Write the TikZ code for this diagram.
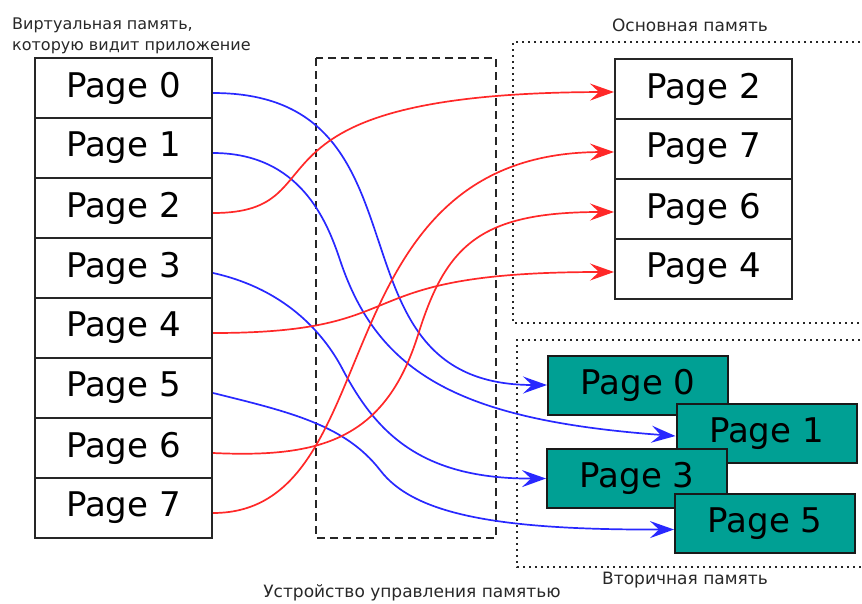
\documentclass[tikz,border=0pt]{standalone}
\usepackage{fontspec}
\setmainfont{DejaVu Sans}
\usetikzlibrary{arrows.meta}
\definecolor{tealbox}{RGB}{0,160,148}
\definecolor{cblue}{RGB}{40,40,255}
\definecolor{cred}{RGB}{255,40,40}
\definecolor{lblgray}{RGB}{40,40,40}
\begin{document}
\begin{tikzpicture}[x=1pt,y=-1pt,
  pg/.style={draw=black!85, line width=2pt, minimum width=177pt, minimum height=60pt,
    inner sep=0pt, font=\fontsize{34}{38}\selectfont, fill=white},
  tl/.style={pg, fill=tealbox, draw=black!90, minimum width=180pt, minimum height=59pt},
  lbl/.style={font=\fontsize{17}{21}\selectfont, text=lblgray, inner sep=0pt},
  lbls/.style={lbl, font=\fontsize{16}{21}\selectfont},
  tip/.style={-{Stealth[length=24pt,width=17pt,inset=9pt]}},
  bl/.style={cblue, line width=1.7pt, tip},
  rd/.style={cred, line width=1.7pt, tip},
  dotb/.style={black!85, line width=2pt, dash pattern=on 2pt off 4pt},
  dashb/.style={black!85, line width=2pt, dash pattern=on 8pt off 5pt}]
\useasboundingbox (0,0) rectangle (862,603);
\fill[white] (0,0) rectangle (862,603);

% frames
\draw[dashb] (316,58) rectangle (496,538);
\draw[dotb] (866,42) -- (513,42) -- (513,323) -- (866,323);
\draw[dotb] (866,340) -- (517,340) -- (517,567) -- (866,567);

% labels
\node[lbls, anchor=base west] (l1) at (12,29) {Виртуальная память,};
\node[lbls, anchor=base west] (l2) at (12,50) {которую видит приложение};
\node[lbl, anchor=base] (l3) at (690,31) {Основная память};
\node[lbl, anchor=base] (l4) at (685,584) {Вторичная память};
\node[lbl, anchor=base] (l5) at (412,597) {Устройство управления памятью};

% virtual pages
\foreach \i/\t in {0/0,1/1,2/2,3/3,4/4,5/5,6/6,7/7}
  \node[pg] (v\i) at (123.5,{58+30+60*\i}) {Page \t};

% main memory
\node[pg] (m2) at (703.5,89) {Page 2};
\node[pg] (m7) at (703.5,149) {Page 7};
\node[pg] (m6) at (703.5,209) {Page 6};
\node[pg] (m4) at (703.5,269) {Page 4};

% secondary memory
\node[tl] (s0) at (638,385) {Page 0};
\node[tl] (s1) at (766.5,433.5) {Page 1};
\node[tl] (s3) at (637,478.5) {Page 3};
\node[tl] (s5) at (765,523.5) {Page 5};

% blue connectors
\draw[bl] ([yshift=-5pt]v0.east) .. controls (442,93) and (317,385) .. (s0.west);
\draw[bl] ([yshift=-5pt]v1.east) .. controls (300,153) and (327,221) .. (340,260)
   .. controls (378,374) and (460,420) .. ([yshift=-2.5pt]s1.west);
\draw[bl] ([yshift=-5pt]v3.east) .. controls (290,290) and (327,339) .. (343,370)
   .. controls (376,432) and (420,479) .. (s3.west);
\draw[bl] ([yshift=-5pt]v5.east) .. controls (290,412) and (345,425) .. (380,470)
   .. controls (414,515) and (500,530) .. ([yshift=-6pt]s5.west);

% red connectors
\draw[rd] ([yshift=-5pt]v2.east) .. controls (347,213) and (221,93) .. ([yshift=-3pt]m2.west);
\draw[rd] ([yshift=-5pt]v4.east) .. controls (424,333) and (338,272) .. ([yshift=-3pt]m4.west);
\draw[rd] ([yshift=-5pt]v6.east) .. controls (320,458) and (385,440) .. (418,335)
   .. controls (446,245) and (480,212) .. ([yshift=-3pt]m6.west);
\draw[rd] ([yshift=-5pt]v7.east) .. controls (392,513) and (315,153) .. ([yshift=-3pt]m7.west);
\end{tikzpicture}
\end{document}
